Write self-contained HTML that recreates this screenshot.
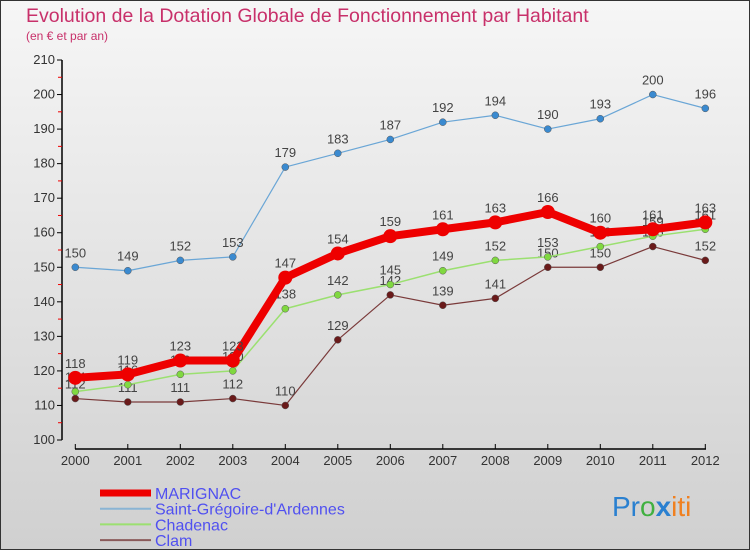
<!DOCTYPE html>
<html><head><meta charset="utf-8"><style>
body{margin:0;width:750px;height:550px;overflow:hidden;font-family:"Liberation Sans",sans-serif}
#wrap{position:absolute;left:0;top:0;width:748px;height:548px;border:1px solid #333;background:linear-gradient(#f6f6f6,#d0d0d0)}
</style></head><body>
<div id="wrap"></div>
<svg id="c" width="750" height="550" style="position:absolute;left:0;top:0">
<text x="26" y="22" font-size="19.5" fill="#c8306a">Evolution de la Dotation Globale de Fonctionnement par Habitant</text>
<text x="26" y="40" font-size="12" fill="#c8306a">(en € et par an)</text>
<g id="axes"></g><g id="series"></g><g id="legend"></g>
<text x="612" y="516" font-size="28"><tspan fill="#2a80d0">Pr</tspan><tspan fill="#40b040">o</tspan><tspan fill="#2a80d0" font-weight="bold">x</tspan><tspan fill="#f08020">iti</tspan></text>
</svg>
<script>
const years=[2000,2001,2002,2003,2004,2005,2006,2007,2008,2009,2010,2011,2012];
const marignac=[118,119,123,123,147,154,159,161,163,166,160,161,163];
const stgregoire=[150,149,152,153,179,183,187,192,194,190,193,200,196];
const chadenac=[114,116,119,120,138,142,145,149,152,153,156,159,161];
const clam=[112,111,111,112,110,129,142,139,141,150,150,156,152];
const yTicks=[100,110,120,130,140,150,160,170,180,190,200,210];
const NS="http://www.w3.org/2000/svg";
const X=i=>75.3+i*52.5;
const Y=v=>440-(v-100)*380/110;
function mk(tag,attrs,parent,text){const e=document.createElementNS(NS,tag);for(const k in attrs)e.setAttribute(k,attrs[k]);if(text!==undefined)e.textContent=text;parent.appendChild(e);return e;}
const ax=document.getElementById('axes');
let e=mk('line',{x1:62,y1:Y(210),x2:62,y2:440,stroke:'#000','stroke-width':1.5},ax);

e=mk('line',{x1:75,y1:449,x2:706,y2:449,stroke:'#000','stroke-width':1.5},ax);

yTicks.forEach(v=>{
 mk('line',{x1:57,y1:Y(v),x2:62,y2:Y(v),stroke:'#000'},ax);
 if(v<210)mk('line',{x1:58,y1:Y(v+5),x2:62,y2:Y(v+5),stroke:'#e00'},ax);
 const t=mk('text',{x:55,y:Y(v)+4,'font-size':13,'text-anchor':'end',fill:'#333'},ax,v);
 
});
years.forEach((y,i)=>{
 mk('line',{x1:X(i),y1:444,x2:X(i),y2:449,stroke:'#000'},ax);
 const t=mk('text',{x:X(i),y:465,'font-size':13,'text-anchor':'middle',fill:'#333'},ax,y);
 
});
const sg=document.getElementById('series');
function series(vals,color,w,r,name,dot){
 const g=mk('g',{},sg);
 
 mk('polyline',{points:vals.map((v,i)=>X(i)+','+Y(v)).join(' '),fill:'none',stroke:color,'stroke-width':w,'stroke-linejoin':'round'},g);
 vals.forEach((v,i)=>{
  const c=mk('circle',{cx:X(i),cy:Y(v),r:r,fill:dot,stroke:'#555','stroke-width':r>5?0:0.5},g);
  
  const t=mk('text',{x:X(i),y:Y(v)-10,'font-size':13,'text-anchor':'middle',fill:'#444'},g,v);
  
 });
}
series(stgregoire,'#6aa6d6',1.2,3.5,'saint-gregoire-series','#3a8ad0');
series(clam,'#7a3a3a',1.2,3.5,'clam-series','#6a1a1a');
series(chadenac,'#9be070',1.5,3.5,'chadenac-series','#80d840');
series(marignac,'#ee0000',8,7,'marignac-series','#ee0000');
const lg=document.getElementById('legend');
[['MARIGNAC','#ee0000',7],['Saint-Grégoire-d\'Ardennes','#8ab4d4',2],['Chadenac','#9be070',2],['Clam','#8a5a5a',2]].forEach((d,i)=>{
 const y=493+i*15.7;
 const g=mk('g',{},lg);
 
 mk('line',{x1:100,y1:y,x2:151,y2:y,stroke:d[1],'stroke-width':d[2]},g);
 mk('text',{x:155,y:y+6,'font-size':16,fill:'#5050f0'},g,d[0]);
});
</script>
</body></html>
